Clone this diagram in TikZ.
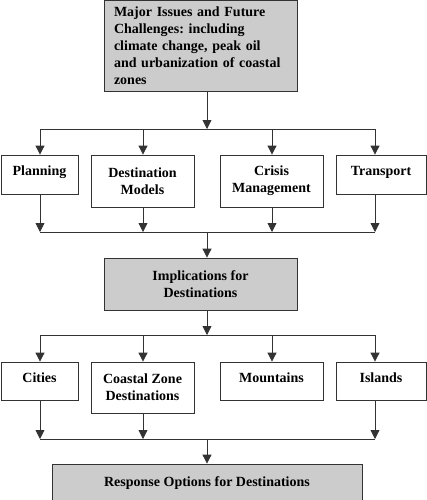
\documentclass[tikz,border=0pt]{standalone}
\usepackage{fontspec}
\setmainfont{Liberation Serif}
\usetikzlibrary{arrows.meta}
\frenchspacing

\begin{document}
\begin{tikzpicture}[x=1pt, y=-1pt,
    box/.style={draw=black!80, line width=0.8pt, align=center, inner sep=0pt,
      font=\bfseries\fontsize{14}{17}\selectfont},
    oneline/.style={box, text depth=7pt},
    graybox/.style={box, fill=black!20},
    bus/.style={draw=black!80, line width=0.8pt},
    link/.style={draw=black!80, line width=0.8pt, -{Triangle[width=9pt,length=9pt]}}]
  \useasboundingbox (0,0) rectangle (427,500);
  % top box
  \node[graybox, text width=173pt, align=left, minimum width=193pt, minimum height=90.5pt]
    (issues) at (200.5,45.75) {Major Issues and Future\\ Challenges: including\\ climate change, peak oil\\ and urbanization of coastal\\ zones};
  % first row
  \node[oneline, minimum width=77pt, minimum height=39pt] (planning) at (39.5,174.5) {Planning};
  \node[box, minimum width=103pt, minimum height=52pt] (models) at (142.5,181) {Destination\\ Models};
  \node[box, minimum width=103pt, minimum height=52pt] (crisis) at (271.5,181) {Crisis\\ Management};
  \node[oneline, minimum width=90pt, minimum height=39pt] (transport) at (381,174.5) {Transport};
  % middle box
  \node[graybox, minimum width=193pt, minimum height=52pt] (implications) at (200.5,284) {Implications for\\ Destinations};
  % second row
  \node[oneline, minimum width=77pt, minimum height=38pt] (cities) at (39.5,381) {Cities};
  \node[box, minimum width=103pt, minimum height=51pt] (coastal) at (142.5,387.5) {Coastal Zone\\ Destinations};
  \node[oneline, minimum width=103pt, minimum height=38pt] (mountains) at (271.5,381) {Mountains};
  \node[oneline, minimum width=90pt, minimum height=38pt] (islands) at (381,381) {Islands};
  % bottom box
  \node[graybox, minimum width=310pt, minimum height=38pt] (response) at (207,483) {Response Options for Destinations};
  % bus points
  \coordinate (a0) at (207,129);
  \coordinate (a1) at (40,129);  \coordinate (a2) at (143,129);
  \coordinate (a3) at (272,129); \coordinate (a4) at (375,129);
  \coordinate (b0) at (207,232);
  \coordinate (b1) at (40,232);  \coordinate (b2) at (143,232);
  \coordinate (b3) at (272,232); \coordinate (b4) at (375,232);
  \coordinate (c0) at (207,335);
  \coordinate (c1) at (40,335);  \coordinate (c2) at (143,335);
  \coordinate (c3) at (272,335); \coordinate (c4) at (375,335);
  \coordinate (d0) at (207,439);
  \coordinate (d1) at (40,439);  \coordinate (d2) at (143,439);
  \coordinate (d4) at (375,439);
  % issues to first row
  \draw[link] (issues.south -| a0) -- (a0);
  \draw[bus] (a1) -- (a4);
  \draw[link] (a1) -- (a1 |- planning.north);
  \draw[link] (a2) -- (a2 |- models.north);
  \draw[link] (a3) -- (a3 |- crisis.north);
  \draw[link] (a4) -- (a4 |- transport.north);
  % first row to implications
  \draw[link] (planning.south -| b1) -- (b1);
  \draw[link] (models.south -| b2) -- (b2);
  \draw[link] (crisis.south -| b3) -- (b3);
  \draw[link] (transport.south -| b4) -- (b4);
  \draw[bus] (b1) -- (b4);
  \draw[link] (b0) -- (b0 |- implications.north);
  % implications to second row
  \draw[link] (implications.south -| c0) -- (c0);
  \draw[bus] (c1) -- (c4);
  \draw[link] (c1) -- (c1 |- cities.north);
  \draw[link] (c2) -- (c2 |- coastal.north);
  \draw[link] (c3) -- (c3 |- mountains.north);
  \draw[link] (c4) -- (c4 |- islands.north);
  % second row to response
  \draw[link] (cities.south -| d1) -- (d1);
  \draw[link] (coastal.south -| d2) -- (d2);
  \draw[link] (islands.south -| d4) -- (d4);
  \draw[bus] (d1) -- (d4);
  \draw[link] (d0) -- (d0 |- response.north);
\end{tikzpicture}
\end{document}
